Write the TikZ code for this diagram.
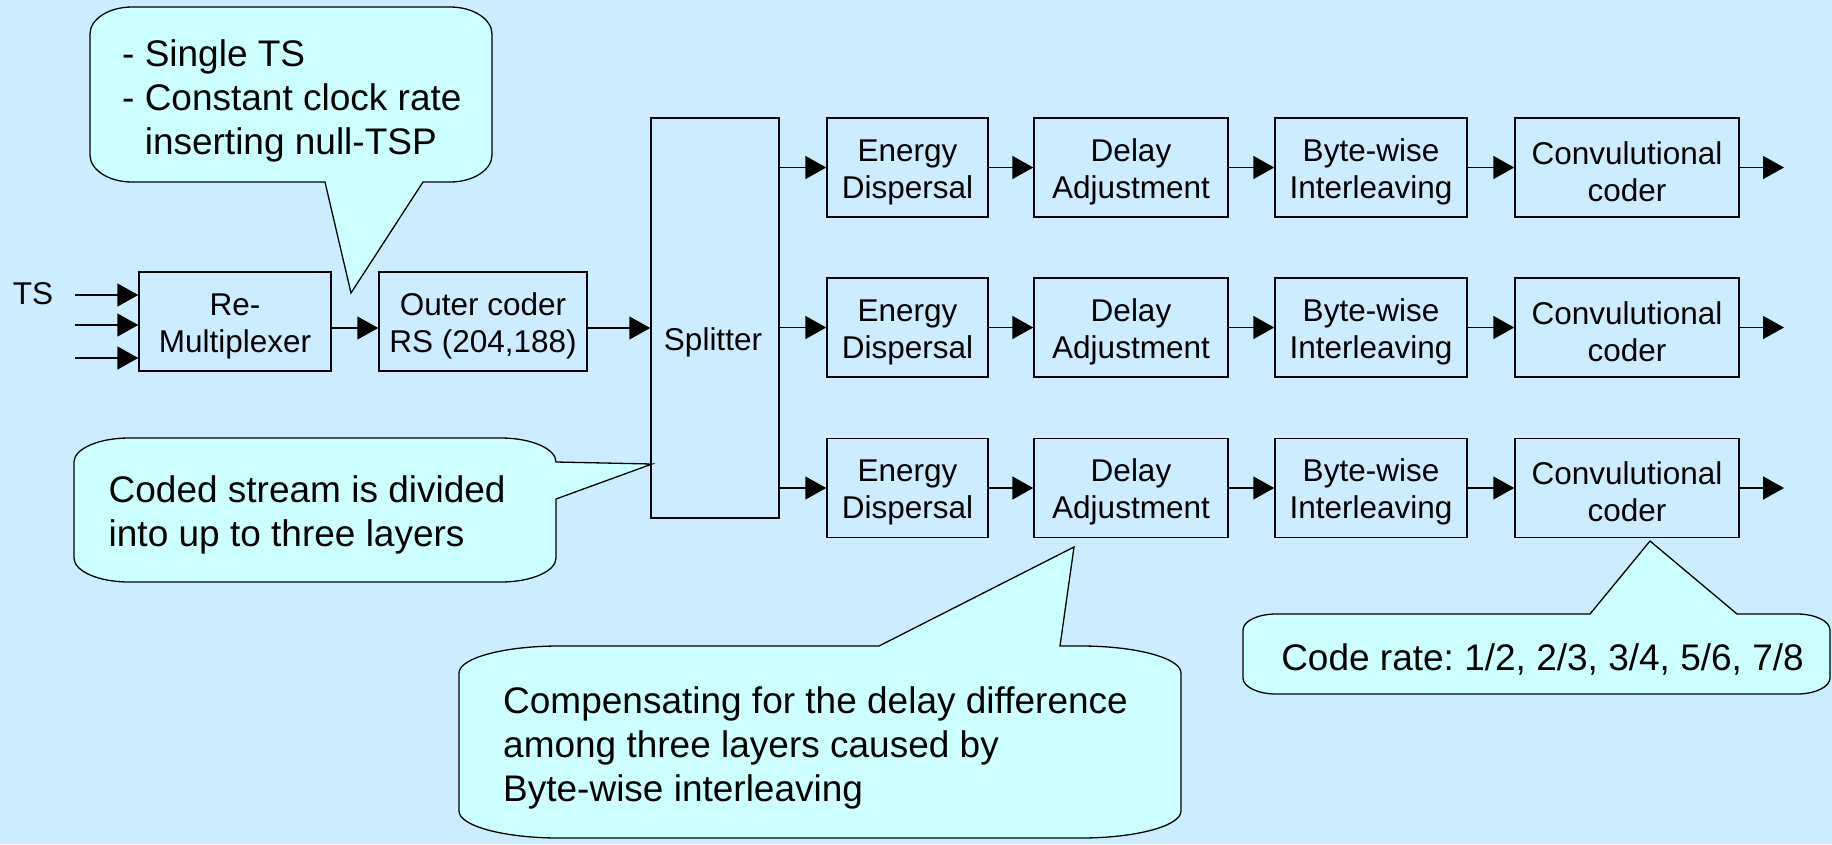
\documentclass[tikz,border=0pt]{standalone}
\usepackage{fontspec}
\setmainfont{Liberation Sans}
\usetikzlibrary{arrows.meta}
\definecolor{slidebg}{RGB}{204,236,255}
\definecolor{notefill}{RGB}{204,255,255}
% invisible rule that gives the first line of a block label some head room
\newcommand{\firstline}{\rule{0pt}{31pt}}
\begin{document}
\frenchspacing
\begin{tikzpicture}[x=1pt,y=-1pt,
  block/.style={draw=black, line width=1.5pt, fill=slidebg, minimum height=99pt,
    inner sep=0pt, align=center, font=\fontsize{31.5}{37}\selectfont},
  blocktext/.style={inner sep=0pt, font=\fontsize{31.5}{37}\selectfont},
  flow/.style={line width=1.8pt, -{Triangle[length=21pt,width=23pt]}},
  note/.style={draw=black, line width=1.3pt, fill=notefill, line join=miter},
  notetext/.style={inner sep=0pt, align=left, font=\fontsize{37}{44}\selectfont},
]
% page and background
\useasboundingbox (0,0) rectangle (1832,844);
\fill[slidebg] (0,0) rectangle (1832,844);

% ---- front end ----
\node[blocktext] (ts) at (33,294) {TS};
\node[block, minimum width=192pt] (mux) at (235,321.5) {\firstline Re-\\Multiplexer};
\node[block, minimum width=208pt] (outer) at (483,321.5) {\firstline Outer coder\\RS (204,188)};
\node[block, minimum width=128pt, minimum height=400pt] (split) at (715,318) {};
\node[blocktext, anchor=base] (splitlbl) at (713,350) {Splitter};

\coordinate (in1) at (75,295);
\coordinate (in2) at (75,325);
\coordinate (in3) at (75,358);
\coordinate (main) at (0,328);
\draw[flow] (in1) -- (in1 -| mux.west);
\draw[flow] (in2) -- (in2 -| mux.west);
\draw[flow] (in3) -- (in3 -| mux.west);
\draw[flow] (mux.east |- main) -- (outer.west |- main);
\draw[flow] (outer.east |- main) -- (split.west |- main);

% ---- three hierarchical layers ----
\foreach \r/\y in {1/167.5, 2/327.5, 3/488}{
  \node[block, minimum width=161pt] (ed\r) at (907.5,\y) {\firstline Energy\\Dispersal};
  \node[block, minimum width=194pt] (da\r) at (1131,\y) {\firstline Delay\\Adjustment};
  \node[block, minimum width=192pt] (bi\r) at (1371,\y) {\firstline Byte-wise\\Interleaving};
  \node[block, minimum width=224pt] (cc\r) at (1627,\y) {\firstline Convulutional\\coder};
  \coordinate (out\r) at (1784,\y);
  \draw[flow] (split.east |- ed\r.west) -- (ed\r.west);
  \draw[flow] (ed\r.east) -- (da\r.west);
  \draw[flow] (da\r.east) -- (bi\r.west);
  \draw[flow] (bi\r.east) -- (cc\r.west);
  \draw[flow] (cc\r.east) -- (out\r);
}

% ---- callouts ----
% re-multiplexer note
\draw[note] (132,7) -- (450,7) .. controls (473.2,7) and (492,19.1) .. (492,34)
  -- (492,155) .. controls (492,169.9) and (473.2,182) .. (450,182)
  -- (423,182) -- (351,293) -- (325,182)
  -- (132,182) .. controls (108.8,182) and (90,169.9) .. (90,155)
  -- (90,34) .. controls (90,19.1) and (108.8,7) .. (132,7) -- cycle;
\node[notetext, anchor=north west] (n1) at (122,39)
  {- Single TS\\- Constant clock rate\\\hphantom{-} inserting null-TSP};

% splitter note
\draw[note] (129,438) -- (501,438) .. controls (531.4,438) and (556,448.8) .. (556,462)
  -- (652,464) -- (556,499)
  -- (556,558) .. controls (556,571.2) and (531.4,582) .. (501,582)
  -- (129,582) .. controls (98.6,582) and (74,571.2) .. (74,558)
  -- (74,462) .. controls (74,448.8) and (98.6,438) .. (129,438) -- cycle;
\node[notetext, anchor=north west] (n4) at (108.5,475)
  {Coded stream is divided\\into up to three layers};

% delay adjustment note
\draw[note] (559,646) -- (879,646) -- (1074,547) -- (1060,646)
  -- (1081,646) .. controls (1136.2,646) and (1181,658.1) .. (1181,673)
  -- (1181,811) .. controls (1181,825.9) and (1136.2,838) .. (1081,838)
  -- (559,838) .. controls (503.8,838) and (459,825.9) .. (459,811)
  -- (459,673) .. controls (459,658.1) and (503.8,646) .. (559,646) -- cycle;
\node[notetext, anchor=north west] (n5) at (503,686)
  {Compensating for the delay difference\\among three layers caused by\\Byte-wise interleaving};

% code rate note
\draw[note] (1276,614) -- (1590,614) -- (1650,541) -- (1737,614)
  -- (1797,614) .. controls (1815.2,614) and (1830,621.2) .. (1830,630)
  -- (1830,678) .. controls (1830,686.8) and (1815.2,694) .. (1797,694)
  -- (1276,694) .. controls (1257.8,694) and (1243,686.8) .. (1243,678)
  -- (1243,630) .. controls (1243,621.2) and (1257.8,614) .. (1276,614) -- cycle;
\node[notetext, anchor=base] (n6) at (1542.5,670) {Code rate: 1/2, 2/3, 3/4, 5/6, 7/8};
\end{tikzpicture}
\end{document}
